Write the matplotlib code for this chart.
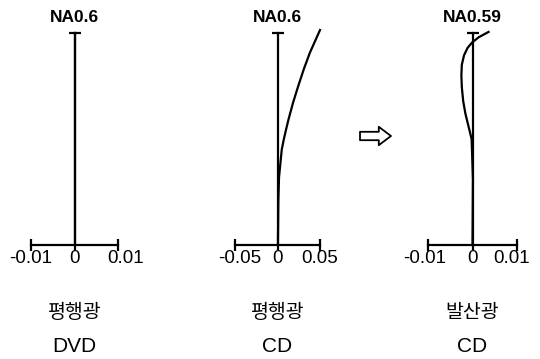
import matplotlib
matplotlib.use("Agg")
import matplotlib.pyplot as plt

plt.rcParams['font.family'] = ['Liberation Sans', 'DejaVu Sans']

# spherical aberration vs normalised aperture
na_dvd = [0.0, 1.0]
sa_dvd = [0.0, 0.0]

na_cd_par = [0, 0.21, 0.32, 0.45, 0.50, 0.54, 0.59, 0.67, 0.745, 0.83, 0.906, 0.96, 1.014]
sa_cd_par = [0.0005, 0.001, 0.0018, 0.005, 0.0075, 0.0098, 0.0128, 0.0182, 0.024, 0.031, 0.038, 0.044, 0.050]

na_cd_div = [0, 0.31, 0.50, 0.56, 0.62, 0.68, 0.745, 0.80, 0.85, 0.895, 0.93, 0.955, 0.98, 1.005]
sa_cd_div = [0, 0.0001, -0.0002, -0.0009, -0.0016, -0.0021, -0.0024, -0.0025, -0.0024, -0.0019, -0.0011, -0.0001, 0.0014, 0.0036]

na_labels = ['NA0.6', 'NA0.6', 'NA0.59']
scales = [0.01, 0.05, 0.01]
tick_text = [['-0.01', '0', '0.01'], ['-0.05', '0', '0.05'], ['-0.01', '0', '0.01']]
light = ['평행광', '평행광', '발산광']
disc = ['DVD', 'CD', 'CD']

# layout in pixels: centre of axis, half length of horizontal scale
W, H = 540, 359
centres = [74.5, 277.5, 472.5]
halves = [43.5, 42.5, 44.5]
label_x = [[-0.0101, 0, 0.0118], [-0.0441, 0, 0.049], [-0.0108, 0, 0.0088]]

fig = plt.figure(figsize=(W / 100, H / 100), dpi=100)

panels = [(na_dvd, sa_dvd), (na_cd_par, sa_cd_par), (na_cd_div, sa_cd_div)]
for i, (na, sa) in enumerate(panels):
    c, h, s = centres[i], halves[i], scales[i]
    ax = fig.add_axes([(c - h) / W, 114 / H, 2 * h / W, 212 / H])
    ax.set_xlim(-s, s)
    ax.set_ylim(0, 1)
    ax.axis('off')

    # axes drawn like the original sketch
    ax.plot([0, 0], [-0.02, 1], color='black', lw=1.6, clip_on=False)
    ax.plot([-s, s], [0, 0], color='black', lw=1.6, clip_on=False)
    ax.plot([-s, s], [0, 0], ls='none', marker='|', ms=9, mew=1.6, color='black', clip_on=False)
    ax.plot([0], [1], ls='none', marker='_', ms=8, mew=1.6, color='black', clip_on=False)

    ax.plot(sa, na, color='black', lw=1.6, clip_on=False)

    ax.text(0, 1.075, na_labels[i], ha='center', va='center', fontsize=12.5, fontweight='bold')
    for lx, t in zip(label_x[i], tick_text[i]):
        ax.text(lx, -0.062, t, ha='center', va='center', fontsize=13.5)
    ax.text(0, -0.32, light[i], ha='center', va='center', fontsize=14,
            family=['Noto Sans CJK KR', 'DejaVu Sans'])
    ax.text(0, -0.478, disc[i], ha='center', va='center', fontsize=15)

# hollow arrow between the two CD panels
ax.annotate('', xy=(391, 223), xytext=(360, 223), xycoords='figure pixels',
            textcoords='figure pixels',
            arrowprops=dict(arrowstyle='simple,head_length=0.8,head_width=1.2,tail_width=0.55',
                            mutation_scale=11, fc='white', ec='black', lw=1.3,
                            shrinkA=0, shrinkB=0))

fig.savefig('out.png', dpi=100, facecolor='white')
